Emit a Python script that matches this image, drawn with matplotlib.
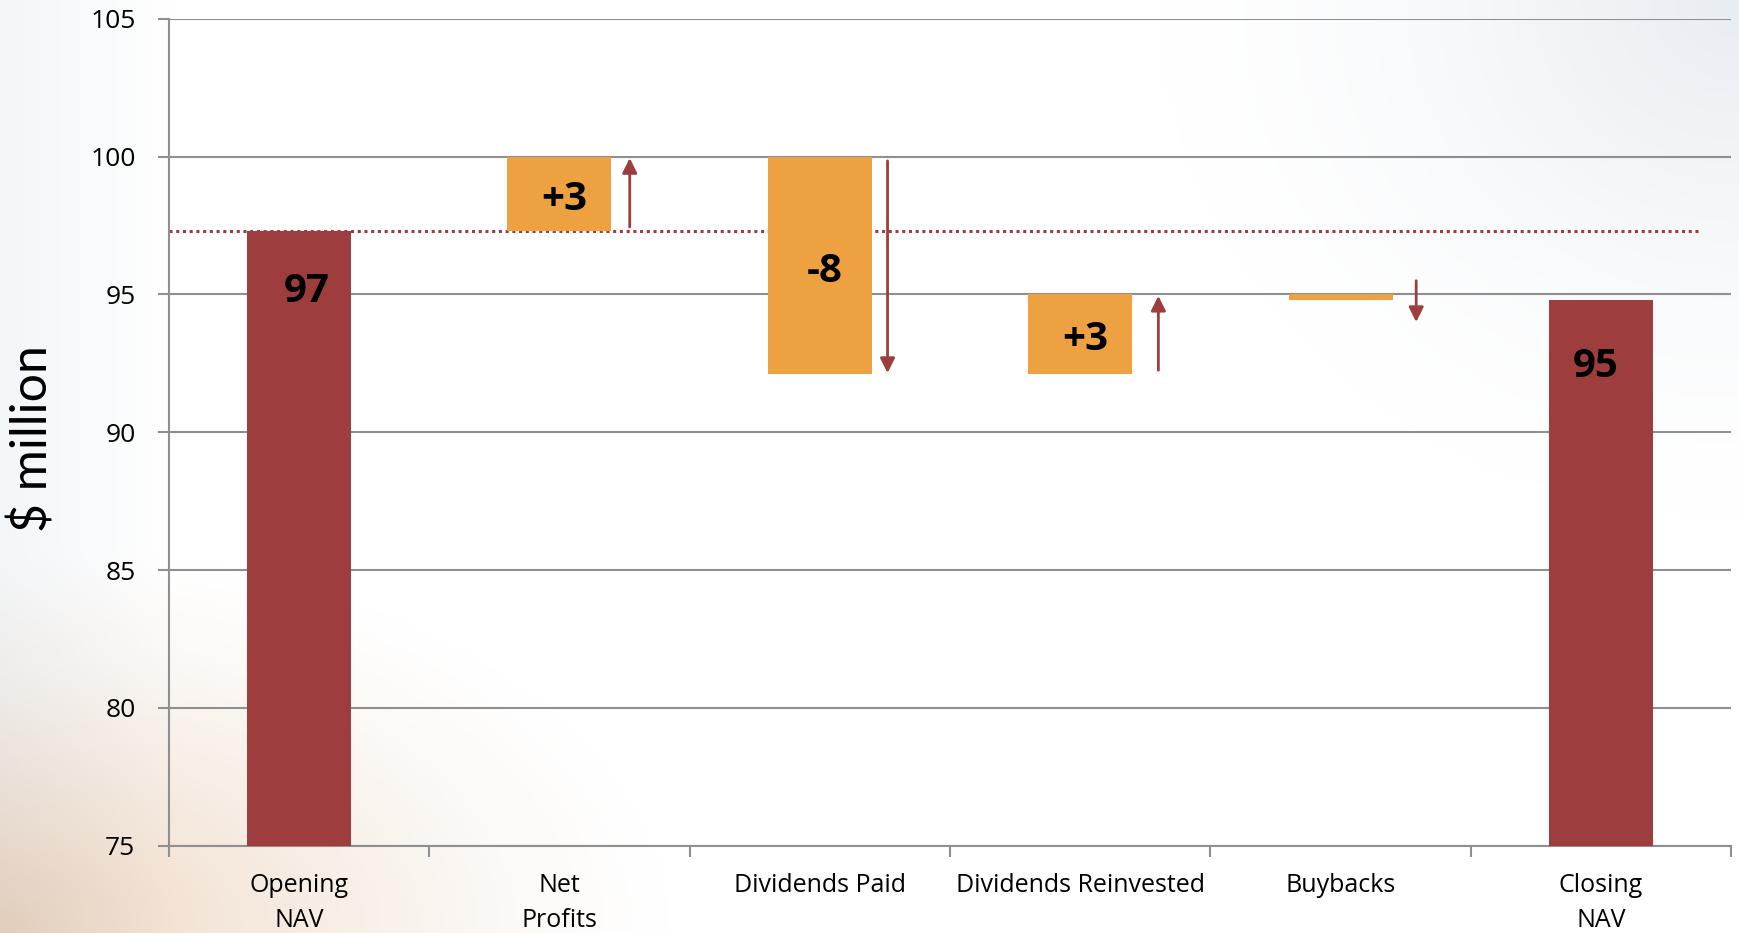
import numpy as np
import matplotlib.pyplot as plt

# data ($ million)
categories = ["Opening\nNAV", "Net\nProfits", "Dividends Paid", "Dividends Reinvested", "Buybacks", "Closing\nNAV"]
opening_nav = 97.3
changes = [2.7, -7.9, 2.9, -0.2]
labels = ["97", "+3", "-8", "+3", "", "95"]

red = "#9E3D3D"
orange = "#EDA140"
grid_gray = "#8F8F8F"

levels = np.concatenate([[opening_nav], opening_nav + np.cumsum(changes)])
closing_nav = levels[-1]

plt.rcParams['font.family'] = ['Open Sans', 'DejaVu Sans']

fig = plt.figure(figsize=(17.4, 9.33), dpi=100)

# faint background wash (white centre, warm bottom-left, cool top-right)
bg = fig.add_axes([0, 0, 1, 1], zorder=-10)
h, w = 200, 372
yy, xx = np.mgrid[0:1:h * 1j, 0:1:w * 1j]   # yy=0 at bottom after flip below
img = np.ones((h, w, 3))
warm = np.clip(1 - np.hypot(xx * 2.6, (1 - yy[::-1]) * 0 + yy * 2.4), 0, 1) ** 1.3
cool = np.clip(1 - np.hypot((1 - xx) * 3.0, (1 - yy) * 1.8), 0, 1) ** 1.5
side = np.clip(1 - xx * 10, 0, 1) * 0.5
for c, (wv, cv) in enumerate(zip((0.93, 0.84, 0.76), (0.91, 0.93, 0.95))):
    img[..., c] = img[..., c] - warm * (1 - wv) - cool * (1 - cv) - side * (1 - cv)
bg.imshow(np.clip(img, 0, 1), aspect='auto', extent=[0, 1, 0, 1], origin='lower')
bg.axis('off')

ax = fig.add_axes([0.097, 0.0937, 0.898, 0.886])
ax.set_facecolor('none')

x = np.arange(len(categories))
width = 0.40
# totals
ax.bar([x[0], x[-1]], [opening_nav - 75, closing_nav - 75], bottom=75, width=width,
       color=red, zorder=3)
# changes
starts = levels[:-1]
ends = levels[1:]
bottoms = np.minimum(starts, ends)
heights = np.abs(np.array(changes))
ax.bar(x[1:5], heights, bottom=bottoms, width=width, color=orange, zorder=3)

# value labels
lab_kw = dict(ha='center', va='center', fontsize=29, fontweight='bold', color='black', zorder=5)
ax.text(x[0] + 0.03, opening_nav - 2.2, labels[0], **lab_kw)
ax.text(x[-1] - 0.02, closing_nav - 2.4, labels[-1], **lab_kw)
for i in range(1, 5):
    if labels[i]:
        ax.text(x[i] + 0.02, bottoms[i - 1] + heights[i - 1] / 2 - 0.2, labels[i], **lab_kw)

# arrows beside the change bars
arrow_dx = [0.27, 0.26, 0.30, 0.29]
for i, (s, e) in enumerate(zip(starts, ends), start=1):
    if abs(e - s) < 1:
        mid = (s + e) / 2
        s, e = mid + 0.6 * np.sign(s - e), mid - 0.9 * np.sign(s - e)
    else:
        d = np.sign(e - s)
        s, e = s + 0.15 * d, e - 0.05 * d
    ax.annotate("", xy=(x[i] + arrow_dx[i - 1], e), xytext=(x[i] + arrow_dx[i - 1], s),
                arrowprops=dict(arrowstyle='-|>', color=red, lw=2,
                                mutation_scale=22, shrinkA=0, shrinkB=0),
                zorder=4)

# opening level reference line
ax.plot([-0.5, 5.38], [opening_nav, opening_nav], linestyle=(0, (1, 1.2)),
        color=red, lw=2.2, zorder=2)

ax.set_xlim(-0.5, 5.5)
ax.set_ylim(75, 105)
ax.set_yticks(np.arange(75, 106, 5))
ax.yaxis.grid(True, color=grid_gray, lw=1.5, zorder=0)
ax.set_axisbelow(True)

ax.set_xticks(x)
ax.set_xticklabels(categories, fontsize=18, linespacing=1.5)
ax.set_xticks(np.arange(-0.5, 5.6, 1), minor=True)
ax.tick_params(axis='x', which='major', length=0, pad=20)
ax.tick_params(axis='x', which='minor', length=8, width=1.5, color=grid_gray)
ax.tick_params(axis='y', length=8, width=1.5, color=grid_gray, labelsize=19, pad=16)

for side_name in ('top', 'right'):
    ax.spines[side_name].set_visible(False)
for side_name in ('left', 'bottom'):
    ax.spines[side_name].set_color(grid_gray)
    ax.spines[side_name].set_linewidth(1.5)

fig.text(0.019, 0.53, "$ million", rotation=90, ha='center', va='center',
         fontsize=36, fontfamily=['Lato', 'DejaVu Sans'], color='black')

fig.savefig("out.png", dpi=100)
